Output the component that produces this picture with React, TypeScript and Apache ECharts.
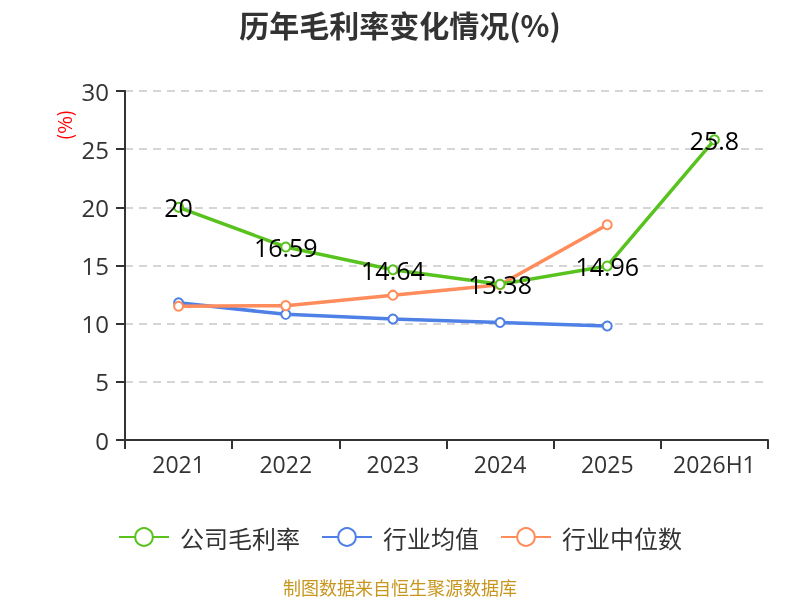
import React, { useEffect, useRef } from "react";
import * as echarts from "echarts";

const categories = ["2021", "2022", "2023", "2024", "2025", "2026H1"];
const companyValues = [20, 16.59, 14.64, 13.38, 14.96, 25.8];
const industryAvg = [11.8, 10.8, 10.4, 10.1, 9.8];
const industryMedian = [11.5, 11.55, 12.45, 13.35, 18.5];
const seriesNames = ["公司毛利率", "行业均值", "行业中位数"];

export default function App() {
  const ref = useRef<HTMLDivElement>(null);
  useEffect(() => {
    if (!ref.current) return;
    const chart = echarts.init(ref.current, undefined, { renderer: "svg" });
    const colors = ["#58c31e", "#4e80e6", "#ff8c5a"];
    chart.setOption({
      animation: false,
      color: colors,
      title: {
        text: "历年毛利率变化情况(%)",
        left: "center",
        top: 4,
        textStyle: { fontSize: 30, fontWeight: "bold", color: "#333", fontFamily: "Noto Sans CJK SC" },
      },
      grid: { left: 125, right: 32, top: 91, bottom: 160 },
      legend: {
        top: 520,
        left: "center",
        itemWidth: 50,
        itemHeight: 22,
        itemGap: 21,
        textStyle: { fontSize: 24, color: "#333", fontFamily: "Noto Sans CJK SC", padding: [0, 0, 0, 6] },
        data: seriesNames,
      },
      graphic: [
        {
          type: "text",
          left: "center",
          top: 578,
          style: {
            text: "制图数据来自恒生聚源数据库",
            fill: "#c8961e",
            fontSize: 18,
            fontFamily: "Noto Sans CJK SC",
          },
        },
        {
          type: "text",
          x: 63,
          y: 125,
          rotation: Math.PI / 2,
          style: {
            text: "(%)",
            fill: "#ff0000",
            fontSize: 19,
            align: "center",
            verticalAlign: "middle",
            fontFamily: "Noto Sans CJK SC",
          },
        },
      ],
      xAxis: {
        type: "category",
        data: categories,
        boundaryGap: true,
        axisLine: { show: true, lineStyle: { color: "#333", width: 2 } },
        axisTick: { show: true, interval: 0, length: 9, lineStyle: { color: "#333", width: 2 } },
        axisLabel: { interval: 0, fontSize: 23, color: "#333", margin: 12, fontFamily: "Open Sans" },
      },
      yAxis: {
        type: "value",
        min: 0,
        max: 30,
        interval: 5,
        axisLine: { show: true, lineStyle: { color: "#333", width: 2 } },
        axisTick: { show: true, length: 9, lineStyle: { color: "#333", width: 2 } },
        axisLabel: { fontSize: 24, color: "#333", margin: 16, fontFamily: "Open Sans" },
        splitLine: { lineStyle: { color: "#c8c8c8", type: [8, 6], width: 1.5 } },
      },
      series: [
        {
          name: seriesNames[0],
          type: "line",
          data: companyValues,
          symbol: "emptyCircle",
          symbolSize: 9,
          lineStyle: { width: 3.5 },
          label: { show: true, position: "inside", fontSize: 25, color: "#000", fontFamily: "Open Sans" },
          z: 3,
        },
        {
          name: seriesNames[1],
          type: "line",
          data: industryAvg,
          symbol: "emptyCircle",
          symbolSize: 9,
          lineStyle: { width: 3.5 },
          z: 2,
        },
        {
          name: seriesNames[2],
          type: "line",
          data: industryMedian,
          symbol: "emptyCircle",
          symbolSize: 9,
          lineStyle: { width: 3.5 },
          z: 2,
        },
      ],
    });
    return () => chart.dispose();
  }, []);
  return <div ref={ref} style={{ position: "fixed", left: 0, top: 0, width: 800, height: 600 }} />;
}
